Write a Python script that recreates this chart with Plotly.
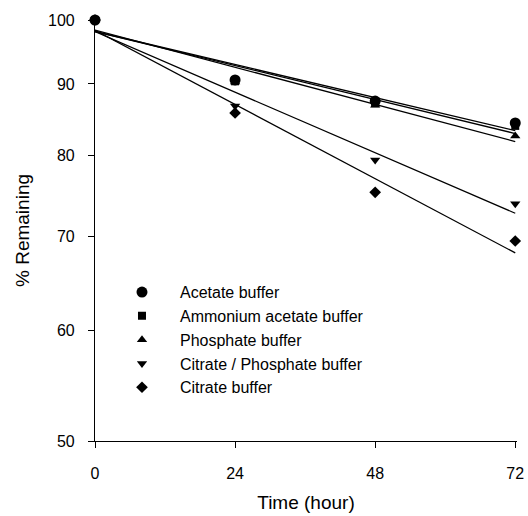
import numpy as np
import plotly.graph_objects as go

time_h = [0, 24, 48, 72]
acetate = [100, 90.6, 87.5, 84.4]
ammonium_acetate = [100, 90.4, 87.2, 84.0]
phosphate = [100, 90.3, 86.9, 82.6]
citrate_phosphate = [100, 86.8, 79.4, 73.9]
citrate = [100, 85.8, 75.3, 69.5]

series = [
    ("Acetate buffer", acetate, "circle", 11),
    ("Ammonium acetate buffer", ammonium_acetate, "square", 8),
    ("Phosphate buffer", phosphate, "triangle-up", 9),
    ("Citrate / Phosphate buffer", citrate_phosphate, "triangle-down", 9),
    ("Citrate buffer", citrate, "diamond", 9),
]

fig = go.Figure()
t = np.array(time_h, dtype=float)
for name, vals, sym, size in series:
    slope, icpt = np.polyfit(t, np.log(np.array(vals, dtype=float)), 1)
    fit = np.exp(icpt + slope * t)
    fig.add_trace(go.Scatter(x=[t[0], t[-1]], y=[fit[0], fit[-1]], mode="lines",
                             line=dict(color="black", width=1.3), showlegend=False,
                             hoverinfo="skip", cliponaxis=False))
for name, vals, sym, size in series:
    fig.add_trace(go.Scatter(x=time_h, y=vals, mode="markers", name=name,
                             marker=dict(symbol=sym, size=size, color="black"),
                             cliponaxis=False))

font = dict(family="Liberation Sans, Arial, sans-serif", color="black")
fig.update_layout(
    width=528, height=516,
    margin=dict(l=95, r=11, t=20, b=75),
    paper_bgcolor="white", plot_bgcolor="white",
    font=dict(size=16, **font),
    showlegend=True,
    legend=dict(x=0.0213, y=0.394, xanchor="left", yanchor="top",
                bgcolor="rgba(0,0,0,0)", font=dict(size=16, **font),
                itemwidth=66, tracegroupgap=0),
    xaxis=dict(range=[0, 72.3], tickvals=[0, 24, 48, 72], ticks="outside",
               ticklen=6, tickcolor="black", showline=True, linecolor="black",
               linewidth=1.2, showgrid=False, zeroline=False, automargin=False,
               ticklabelstandoff=12,
               title=dict(text="Time (hour)", font=dict(size=19, **font), standoff=14),
               tickfont=dict(size=16, **font)),
    yaxis=dict(type="log", range=[np.log10(50), np.log10(100)],
               tickvals=[50, 60, 70, 80, 90, 100], ticktext=["50", "60", "70", "80", "90", "100"],
               ticks="outside", ticklen=6, tickcolor="black", showline=True,
               linecolor="black", linewidth=1.2, showgrid=False, zeroline=False,
               automargin=False, ticklabelstandoff=10,
               title=dict(text="% Remaining", font=dict(size=19, **font), standoff=13),
               tickfont=dict(size=16, **font)),
)

fig.write_html("out.html")
